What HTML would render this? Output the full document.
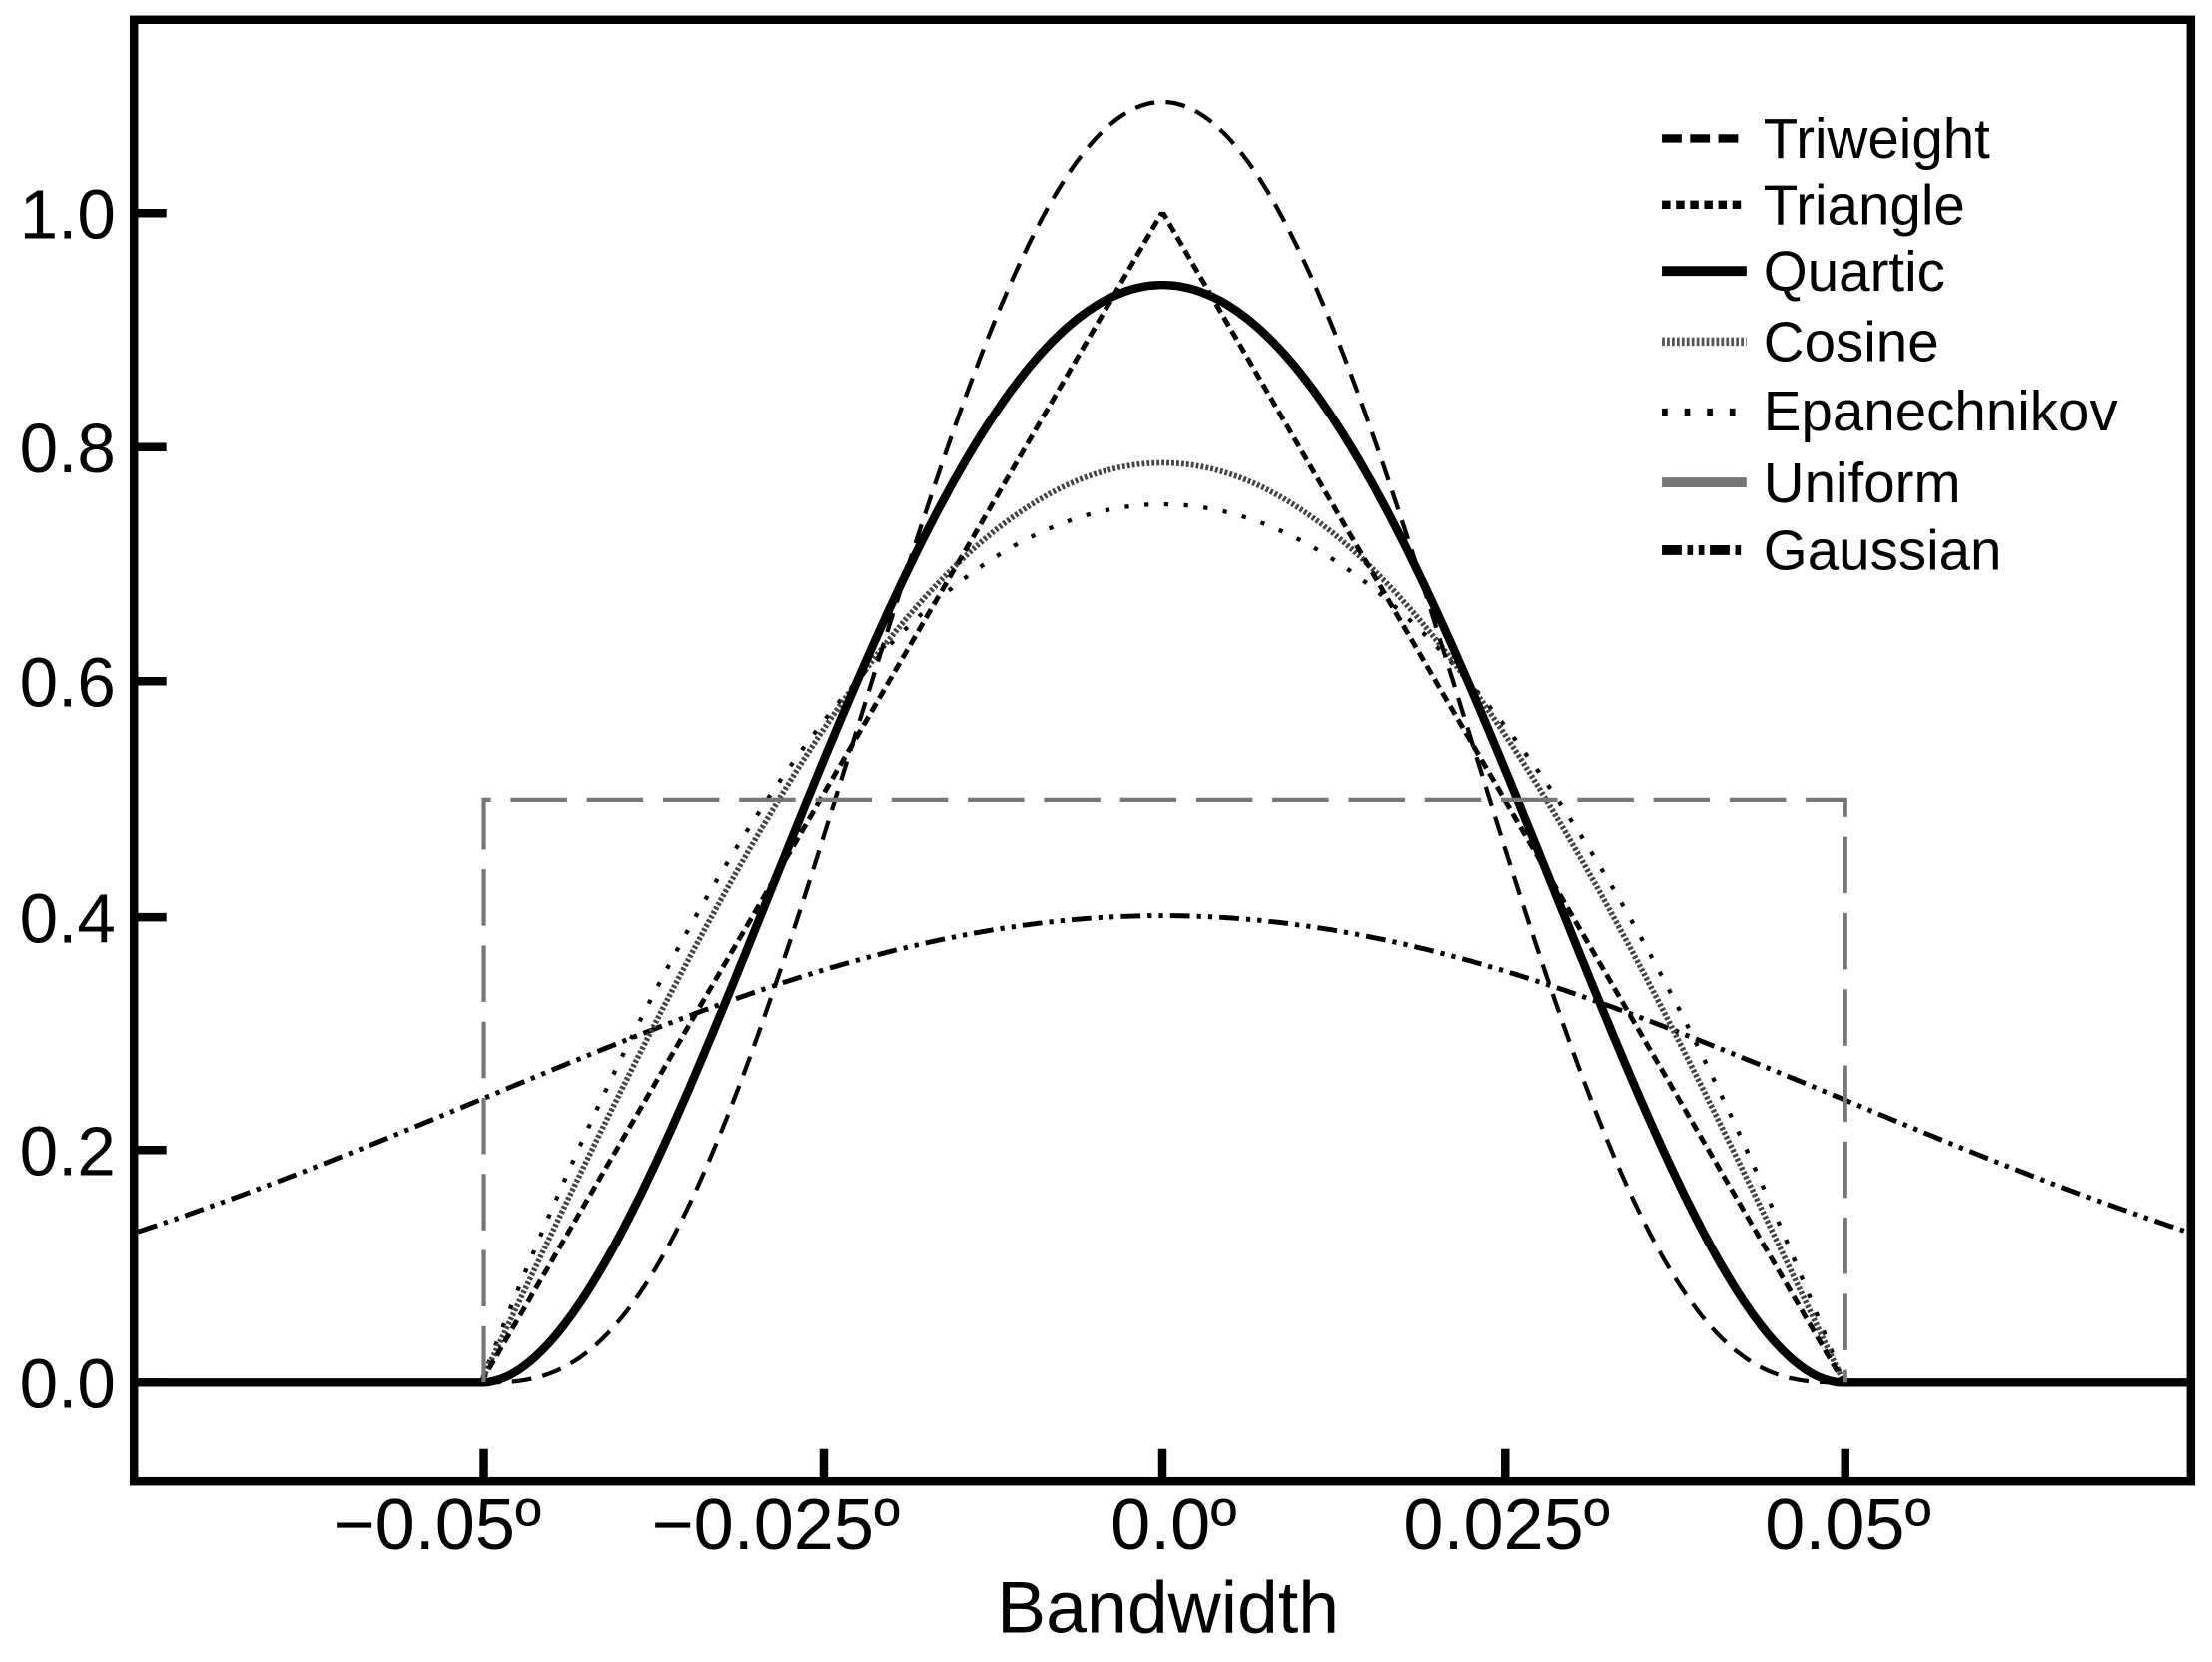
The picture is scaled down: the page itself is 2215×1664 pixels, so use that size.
<!DOCTYPE html>
<html><head><meta charset="utf-8"><style>
html,body{margin:0;padding:0;background:#fff;}
svg{display:block;}
text{font-family:"Liberation Sans",sans-serif;fill:#000;}
</style></head><body>
<svg id="s" width="2215" height="1664" viewBox="0 0 1568 1178" preserveAspectRatio="none">
<rect x="95" y="14" width="1458" height="1036" fill="none" stroke="#000" stroke-width="6"/>
<g stroke="#000" stroke-width="6">
<line x1="95" y1="151" x2="118" y2="151"/><line x1="95" y1="317" x2="118" y2="317"/>
<line x1="95" y1="483" x2="118" y2="483"/><line x1="95" y1="650" x2="118" y2="650"/>
<line x1="95" y1="815" x2="118" y2="815"/><line x1="95" y1="980" x2="118" y2="980"/>
<line x1="343" y1="1050" x2="343" y2="1027"/><line x1="584" y1="1050" x2="584" y2="1027"/>
<line x1="824" y1="1050" x2="824" y2="1027"/><line x1="1067" y1="1050" x2="1067" y2="1027"/>
<line x1="1308" y1="1050" x2="1308" y2="1027"/>
</g>
<g font-size="49" text-anchor="end">
<text x="82" y="169">1.0</text><text x="82" y="335">0.8</text><text x="82" y="501">0.6</text>
<text x="82" y="668">0.4</text><text x="82" y="833">0.2</text><text x="82" y="998">0.0</text>
</g>
<g font-size="51" text-anchor="middle">
<text x="310" y="1098">−0.05º</text><text x="550" y="1098">−0.025º</text>
<text x="832" y="1098">0.0º</text><text x="1068" y="1098">0.025º</text><text x="1310" y="1098">0.05º</text>
<text x="828" y="1157" font-size="52">Bandwidth</text>
</g>
<g id="curves" fill="none"></g>
<g font-size="40">
<line x1="1178" y1="98" x2="1238" y2="98" stroke="#000" stroke-width="6" stroke-dasharray="14 6"/><text x="1250" y="112">Triweight</text>
<line x1="1178" y1="145" x2="1238" y2="145" stroke="#000" stroke-width="6" stroke-dasharray="6 4"/><text x="1250" y="159">Triangle</text>
<line x1="1178" y1="192" x2="1238" y2="192" stroke="#000" stroke-width="7"/><text x="1250" y="206">Quartic</text>
<line x1="1178" y1="242" x2="1238" y2="242" stroke="#555" stroke-width="6" stroke-dasharray="2 1.5"/><text x="1250" y="256">Cosine</text>
<line x1="1178" y1="292" x2="1238" y2="292" stroke="#000" stroke-width="5" stroke-dasharray="4 12"/><text x="1250" y="305">Epanechnikov</text>
<line x1="1178" y1="342" x2="1238" y2="342" stroke="#777" stroke-width="7"/><text x="1250" y="356">Uniform</text>
<line x1="1178" y1="390" x2="1238" y2="390" stroke="#000" stroke-width="7" stroke-dasharray="14 4 4 4 4 4"/><text x="1250" y="404">Gaussian</text>
</g>
</svg>
<script>
(function(){
var cx=824,h=483,y0=980,sy=830,L=98,R=1550;
function path(f,a,b){var d="";for(var x=a;x<=b+0.001;x+=2){var u=(x-cx)/h;var y=y0-sy*f(u);d+=(d?"L":"M")+x.toFixed(1)+" "+y.toFixed(1);}return d;}
function k(f){return function(u){return Math.abs(u)<=1?f(u):0;};}
var defs=[
 [function(u){return Math.exp(-u*u/2)/Math.sqrt(2*Math.PI);},L,R,"#000",3.5,"14 5 3 5 3 5"],
 [k(function(u){return 0.75*(1-u*u);}),cx-h,cx+h,"#000",3,"3 11"],
 [k(function(u){return Math.PI/4*Math.cos(Math.PI*u/2);}),cx-h,cx+h,"#444",4,"2 1.5"],
 [k(function(u){return 1-Math.abs(u);}),cx-h,cx+h,"#000",3.5,"7 4"],
 [k(function(u){var t=1-u*u;return 35/32*t*t*t;}),cx-h,cx+h,"#000",3,"14 8"],
 [k(function(u){var t=1-u*u;return 15/16*t*t;}),L,R,"#000",6,""]
];
var g=document.getElementById("curves"),ns="http://www.w3.org/2000/svg";
defs.forEach(function(c){var p=document.createElementNS(ns,"path");p.setAttribute("d",path(c[0],c[1],c[2]));p.setAttribute("stroke",c[3]);p.setAttribute("stroke-width",c[4]);if(c[5])p.setAttribute("stroke-dasharray",c[5]);g.appendChild(p);});
var u=document.createElementNS(ns,"path");
u.setAttribute("d","M343 980 L343 567 L1308 567 L1308 980");
u.setAttribute("stroke","#777");u.setAttribute("stroke-width","3");u.setAttribute("stroke-dasharray","40 14");
g.appendChild(u);
})();
</script>
</body></html>
